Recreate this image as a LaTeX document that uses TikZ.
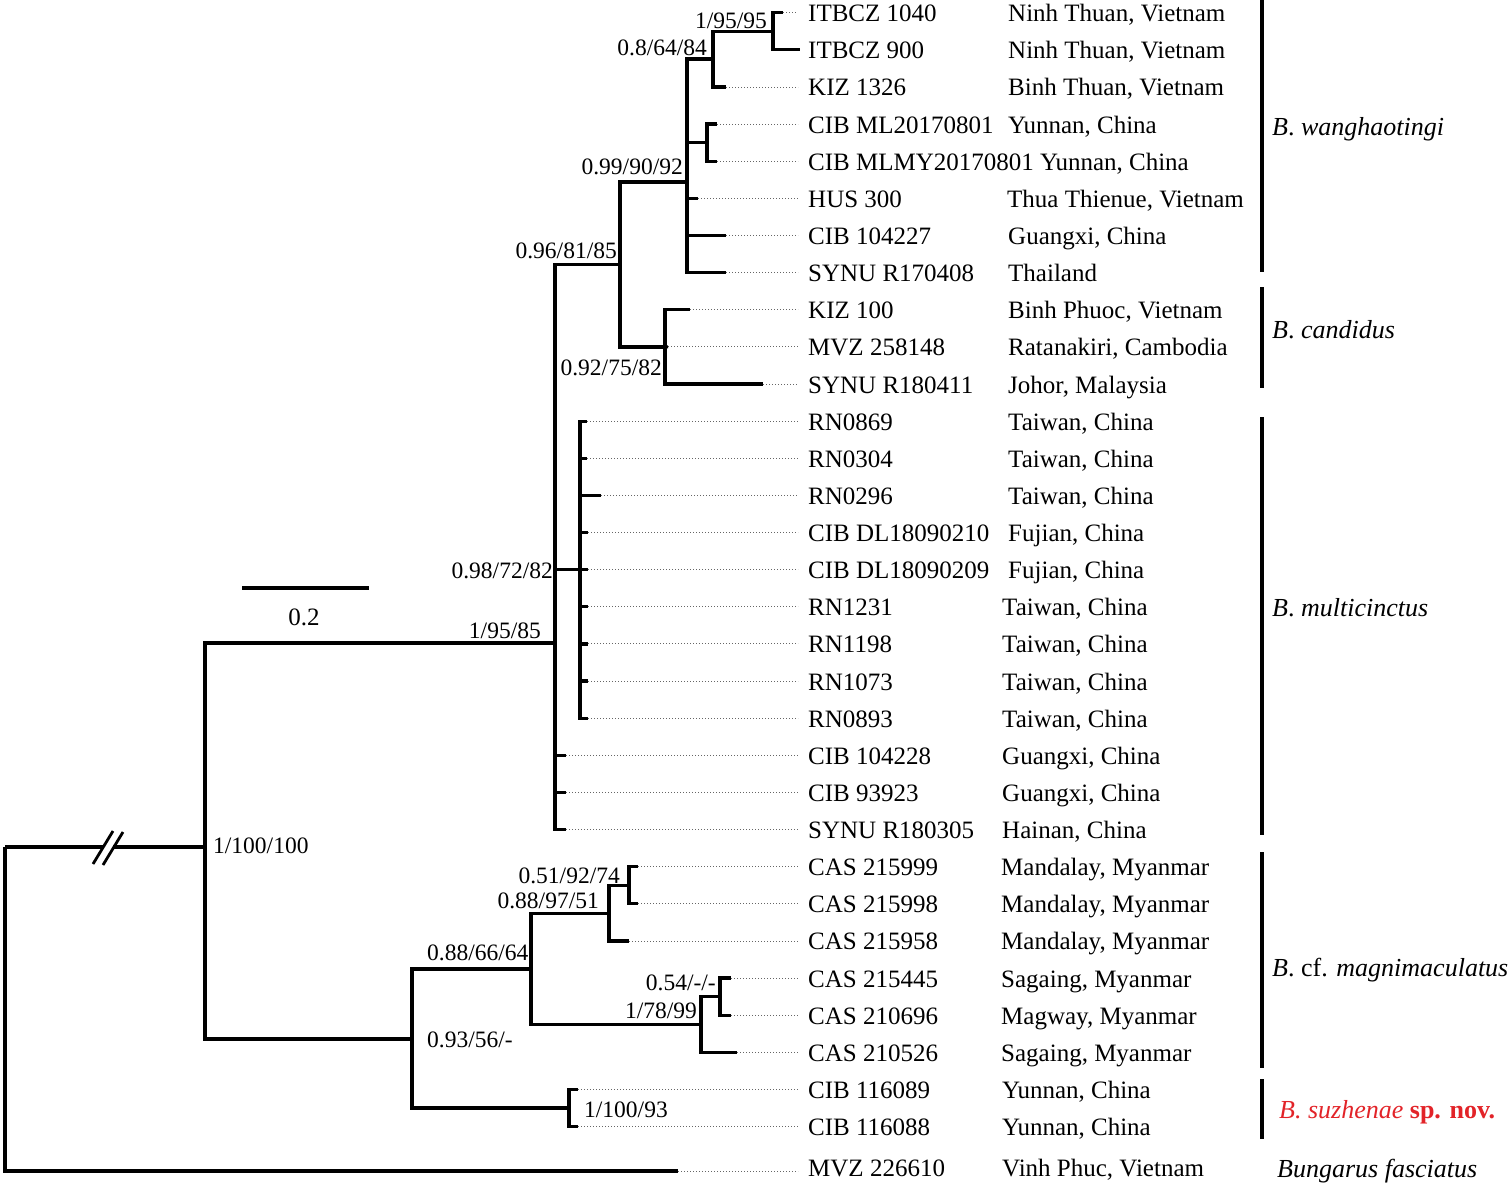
\documentclass[tikz,border=0pt]{standalone}
\usepackage{fontspec}
\setmainfont{Liberation Serif}
\definecolor{nova}{RGB}{226,35,40}
\begin{document}
\begin{tikzpicture}[x=1pt,y=-1pt,
  br/.style={line width=3.2pt},
  dots/.style={line width=0.9pt, black!60, dash pattern=on 1pt off 2pt},
  tip/.style={anchor=base west, inner sep=0pt, font=\fontsize{25}{30}\selectfont},
  supp/.style={inner sep=0pt, font=\fontsize{23.5}{28}\selectfont},
  clade/.style={anchor=base west, inner sep=0pt, font=\fontsize{26}{30}\selectfont},
  cbar/.style={line width=3.2pt}]
\useasboundingbox (0,0) rectangle (1512,1187);

% tips
\foreach \i/\xe/\lab/\loc/\lx in {
 0/783/ITBCZ 1040/{Ninh Thuan, Vietnam}/1008,
 1/800/ITBCZ 900/{Ninh Thuan, Vietnam}/1008,
 2/726/KIZ 1326/{Binh Thuan, Vietnam}/1008,
 3/717/CIB ML20170801/{Yunnan, China}/1008,
 4/717/CIB MLMY20170801/{Yunnan, China}/1040,
 5/698/HUS 300/{Thua Thienue, Vietnam}/1007,
 6/726/CIB 104227/{Guangxi, China}/1008,
 7/726/SYNU R170408/{Thailand}/1008,
 8/690/KIZ 100/{Binh Phuoc, Vietnam}/1008,
 9/668/MVZ 258148/{Ratanakiri, Cambodia}/1008,
 10/763/SYNU R180411/{Johor, Malaysia}/1008,
 11/587/RN0869/{Taiwan, China}/1008,
 12/587/RN0304/{Taiwan, China}/1008,
 13/601/RN0296/{Taiwan, China}/1008,
 14/588/CIB DL18090210/{Fujian, China}/1008,
 15/588/CIB DL18090209/{Fujian, China}/1008,
 16/588/RN1231/{Taiwan, China}/1002,
 17/588/RN1198/{Taiwan, China}/1002,
 18/588/RN1073/{Taiwan, China}/1002,
 19/588/RN0893/{Taiwan, China}/1002,
 20/566/CIB 104228/{Guangxi, China}/1002,
 21/566/CIB 93923/{Guangxi, China}/1002,
 22/566/SYNU R180305/{Hainan, China}/1002,
 23/638/CAS 215999/{Mandalay, Myanmar}/1001,
 24/638/CAS 215998/{Mandalay, Myanmar}/1001,
 25/629/CAS 215958/{Mandalay, Myanmar}/1001,
 26/731/CAS 215445/{Sagaing, Myanmar}/1001,
 27/731/CAS 210696/{Magway, Myanmar}/1001,
 28/737/CAS 210526/{Sagaing, Myanmar}/1001,
 29/578/CIB 116089/{Yunnan, China}/1002,
 30/578/CIB 116088/{Yunnan, China}/1002}{
  \pgfmathsetmacro\yy{12.7+37.13*\i}
  \coordinate (e\i) at (\xe,\yy);
  \coordinate (d\i) at (798,\yy);
  \node[tip] (t\i) at (808,\yy+9) {\lab};
  \node[tip] (l\i) at (\lx,\yy+9) {\loc};
  \draw[dots] (e\i) -- (d\i);
}
% outgroup
\coordinate (eo) at (678,1171);
\coordinate (do) at (798,1171);
\node[tip] (to) at (808,1176) {MVZ 226610};
\node[tip] (lo) at (1002,1176) {Vinh Phuc, Vietnam};
\draw[dots] (eo) -- (do);

% internal nodes
\coordinate (nIT) at (773,31.25);
\coordinate (n713) at (713,59);
\coordinate (n707) at (707,142.7);
\coordinate (n687) at (687,182);
\coordinate (n665) at (665,346.9);
\coordinate (n620) at (620,264.5);
\coordinate (n580) at (580,569.7);
\coordinate (n555) at (555,643);
\coordinate (n629) at (629,885.3);
\coordinate (n609) at (609,913.5);
\coordinate (n720) at (720,996.7);
\coordinate (n701) at (701,1024.5);
\coordinate (n531) at (531,969);
\coordinate (n569) at (569,1108);
\coordinate (n412) at (412,1039);
\coordinate (n205) at (205,847);
\coordinate (root) at (5,847);
\coordinate (brkA) at (104,847);
\coordinate (brkB) at (113,847);

% branches
\draw[br] (nIT) |- (e0);  \draw[br] (nIT) |- (e1);
\draw[br] (n713) |- (nIT); \draw[br] (n713) |- (e2);
\draw[br] (n707) |- (e3); \draw[br] (n707) |- (e4);
\draw[br] (n687) |- (n713); \draw[br] (n687) |- (n707);
\draw[br] (n687) |- (e5); \draw[br] (n687) |- (e6); \draw[br] (n687) |- (e7);
\draw[br] (n665) |- (e8); \draw[br] (n665) -- (e9); \draw[br] (n665) |- (e10);
\draw[br] (n620) |- (n687); \draw[br] (n620) |- (n665);
\foreach \i in {11,...,19} {\draw[br] (n580) |- (e\i);}
\draw[br] (n555) |- (n620); \draw[br] (n555) |- (n580);
\draw[br] (n555) |- (e20); \draw[br] (n555) |- (e21); \draw[br] (n555) |- (e22);
\draw[br] (n629) |- (e23); \draw[br] (n629) |- (e24);
\draw[br] (n609) |- (n629); \draw[br] (n609) |- (e25);
\draw[br] (n720) |- (e26); \draw[br] (n720) |- (e27);
\draw[br] (n701) |- (n720); \draw[br] (n701) |- (e28);
\draw[br] (n531) |- (n609); \draw[br] (n531) |- (n701);
\draw[br] (n569) |- (e29); \draw[br] (n569) |- (e30);
\draw[br] (n412) |- (n531); \draw[br] (n412) |- (n569);
\draw[br] (n205) |- (n555); \draw[br] (n205) |- (n412);
\draw[br] (root) |- (eo);
\draw[br] (root) -- (brkA);
\draw[br] (brkB) -- (n205);
\draw[line width=2.8pt] (93,864) -- (113,831);
\draw[line width=2.8pt] (103,865) -- (123,832);

% support values
\node[supp, anchor=base east] (s1) at (767,28) {1/95/95};
\node[supp, anchor=base east] (s2) at (707,55) {0.8/64/84};
\node[supp, anchor=base east] (s3) at (683,174) {0.99/90/92};
\node[supp, anchor=base east] (s4) at (617,258) {0.96/81/85};
\node[supp, anchor=base east] (s5) at (662,375) {0.92/75/82};
\node[supp, anchor=base east] (s6) at (553,578) {0.98/72/82};
\node[supp, anchor=base east] (s7) at (541,638) {1/95/85};
\node[supp, anchor=base west] (s8) at (213,853) {1/100/100};
\node[supp, anchor=base east] (s9) at (620,883) {0.51/92/74};
\node[supp, anchor=base east] (s10) at (599,908) {0.88/97/51};
\node[supp, anchor=base west] (s11) at (427,960) {0.88/66/64};
\node[supp, anchor=base east] (s12) at (716,990) {0.54/-/-};
\node[supp, anchor=base east] (s13) at (697,1018) {1/78/99};
\node[supp, anchor=base west] (s14) at (427,1047) {0.93/56/-};
\node[supp, anchor=base west] (s15) at (584,1117) {1/100/93};

% scale bar
\coordinate (sbA) at (242,588);
\coordinate (sbB) at (369,588);
\draw[br] (sbA) -- (sbB);
\node[tip, anchor=base] (sbl) at (304,625) {0.2};

% clade bars
\coordinate (b1a) at (1262,0);   \coordinate (b1b) at (1262,272);
\coordinate (b2a) at (1262,287); \coordinate (b2b) at (1262,388);
\coordinate (b3a) at (1262,417); \coordinate (b3b) at (1262,835);
\coordinate (b4a) at (1262,852); \coordinate (b4b) at (1262,1068);
\coordinate (b5a) at (1262,1079); \coordinate (b5b) at (1262,1139);
\draw[cbar] (b1a) -- (b1b);
\draw[cbar] (b2a) -- (b2b);
\draw[cbar] (b3a) -- (b3b);
\draw[cbar] (b4a) -- (b4b);
\draw[cbar] (b5a) -- (b5b);

% clade labels
\node[clade] (c1) at (1272,135) {\textit{B}. \textit{wanghaotingi}};
\node[clade] (c2) at (1272,338) {\textit{B}. \textit{candidus}};
\node[clade] (c3) at (1272,616) {\textit{B}. \textit{multicinctus}};
\node[clade] (c4) at (1272,976) {\textit{B}. cf. \textit{magnimaculatus}};
\node[clade, text=nova] (c5) at (1279,1118) {\textit{B. suzhenae} \textbf{sp. nov.}};
\node[clade] (c6) at (1277,1177) {\textit{Bungarus fasciatus}};
\end{tikzpicture}
\end{document}
